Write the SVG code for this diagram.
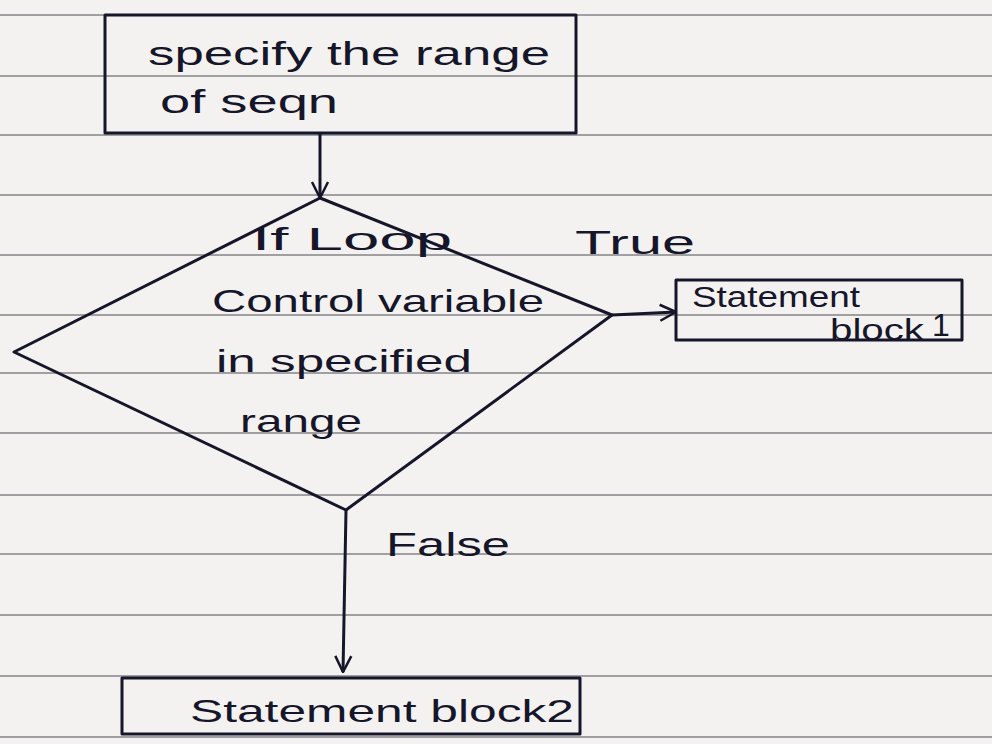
<svg xmlns="http://www.w3.org/2000/svg" width="992" height="744" viewBox="0 0 992 744">
<defs>
<style>
.paper{fill:#f4f2f0}
.rule{stroke:#85858a;stroke-width:1.5}
.shape{fill:none;stroke:#16162a;stroke-width:3;stroke-linejoin:round}
.conn{fill:none;stroke:#16162a;stroke-width:3}
.t{font-family:"Liberation Sans",Arial,sans-serif;fill:#16162a}
</style>
<marker id="arr" viewBox="0 0 20 20" refX="19" refY="10" markerWidth="20" markerHeight="20" markerUnits="userSpaceOnUse" orient="auto">
<path d="M3,2 L19,10 L3,18" fill="none" stroke="#16162a" stroke-width="2.5"/>
</marker>
</defs>
<rect class="paper" x="0" y="0" width="992" height="744"/>
<g id="ruled-lines">
<line class="rule" x1="0" y1="15" x2="992" y2="15"/>
<line class="rule" x1="0" y1="76" x2="992" y2="76"/>
<line class="rule" x1="0" y1="135" x2="992" y2="135"/>
<line class="rule" x1="0" y1="195" x2="992" y2="195"/>
<line class="rule" x1="0" y1="255" x2="992" y2="255"/>
<line class="rule" x1="0" y1="315" x2="992" y2="315"/>
<line class="rule" x1="0" y1="373" x2="992" y2="373"/>
<line class="rule" x1="0" y1="433" x2="992" y2="433"/>
<line class="rule" x1="0" y1="495" x2="992" y2="495"/>
<line class="rule" x1="0" y1="554" x2="992" y2="554"/>
<line class="rule" x1="0" y1="615" x2="992" y2="615"/>
<line class="rule" x1="0" y1="676" x2="992" y2="676"/>
<line class="rule" x1="0" y1="737" x2="992" y2="737"/>
</g>
<g id="connectors">
<line class="conn" x1="320" y1="133" x2="320" y2="198" marker-end="url(#arr)"/>
<line class="conn" x1="612" y1="315" x2="676" y2="312" marker-end="url(#arr)"/>
<line class="conn" x1="346" y1="510" x2="343" y2="672" marker-end="url(#arr)"/>
<text class="t" x="575" y="254" font-size="34" textLength="120" lengthAdjust="spacingAndGlyphs">True</text>
<text class="t" x="386" y="556" font-size="34" textLength="124" lengthAdjust="spacingAndGlyphs">False</text>
</g>
<g id="node-specify">
<rect class="shape" x="105" y="15" width="471" height="118"/>
<text class="t" x="148" y="65" font-size="34" textLength="402" lengthAdjust="spacingAndGlyphs">specify the range</text>
<text class="t" x="160" y="113" font-size="34" textLength="178" lengthAdjust="spacingAndGlyphs">of seqn</text>
</g>
<g id="node-decision">
<polygon class="shape" points="320,198 612,315 346,510 14,352"/>
<text class="t" x="252" y="250" font-size="32" textLength="200" lengthAdjust="spacingAndGlyphs">If Loop</text>
<text class="t" x="212" y="312" font-size="32" textLength="332" lengthAdjust="spacingAndGlyphs">Control variable</text>
<text class="t" x="216" y="372" font-size="32" textLength="256" lengthAdjust="spacingAndGlyphs">in specified</text>
<text class="t" x="240" y="432" font-size="32" textLength="122" lengthAdjust="spacingAndGlyphs">range</text>
</g>
<g id="node-block1">
<rect class="shape" x="676" y="280" width="286" height="60"/>
<text class="t" x="692" y="307" font-size="30" textLength="168" lengthAdjust="spacingAndGlyphs">Statement</text>
<text class="t" x="830" y="340" font-size="30" textLength="94" lengthAdjust="spacingAndGlyphs">block</text>
<text class="t" x="932" y="336" font-size="32">1</text>
</g>
<g id="node-block2">
<rect class="shape" x="122" y="678" width="458" height="56"/>
<text class="t" x="190" y="722" font-size="32" textLength="384" lengthAdjust="spacingAndGlyphs">Statement block2</text>
</g>
</svg>
